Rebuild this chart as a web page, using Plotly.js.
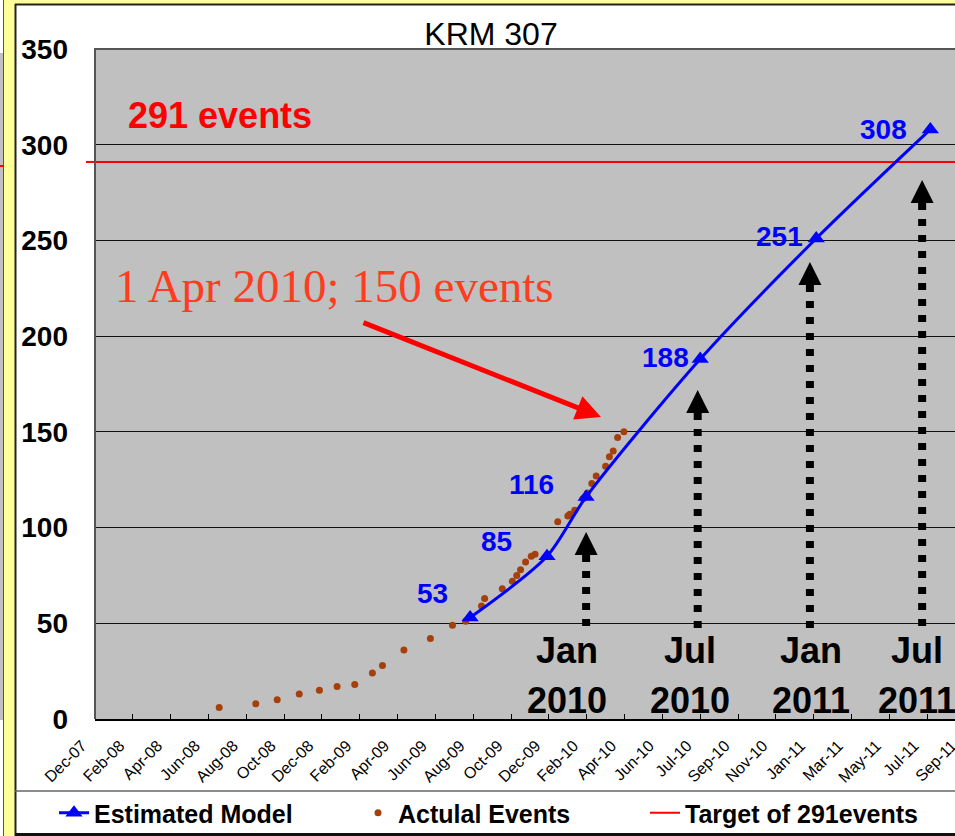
<!DOCTYPE html>
<html>
<head>
<meta charset="utf-8">
<script src="https://cdn.plot.ly/plotly-3.0.1.min.js"></script>
<style>
  html, body { margin: 0; padding: 0; overflow: hidden; background: #ffffff; }
  #chart { width: 1000px; height: 836px; }
</style>
</head>
<body>
<div id="chart"></div>
<script>
// ---- data -------------------------------------------------------------
const MODEL_NAME = 'Estimated Model';
const MODEL_DATES = ['2009-07-31', '2009-11-30', '2010-01-31', '2010-07-31', '2011-01-31', '2011-07-31'];
const MODEL_EVENTS = [53, 85, 116, 188, 251, 308];

const ACTUAL_NAME = 'Actulal Events';
const ACTUAL_DATES = [
  '2008-06-28', '2008-08-25', '2008-09-28', '2008-11-02', '2008-12-04',
  '2009-01-01', '2009-01-29', '2009-02-26', '2009-03-14', '2009-04-17',
  '2009-05-29', '2009-07-03', '2009-07-24', '2009-08-18', '2009-08-23',
  '2009-09-20', '2009-10-06', '2009-10-13', '2009-10-19', '2009-10-27',
  '2009-11-05', '2009-11-11', '2009-12-17', '2010-01-02', '2010-01-05',
  '2010-01-13', '2010-01-26', '2010-02-02', '2010-02-09', '2010-02-16',
  '2010-03-03', '2010-03-09', '2010-03-15', '2010-03-22', '2010-04-01'
];
const ACTUAL_EVENTS = [
  6, 8, 10, 13, 15,
  17, 18, 24, 28, 36,
  42, 49, 51, 59, 63,
  68, 72, 75, 78, 82,
  85, 86, 103, 106, 107,
  109, 115, 118, 123, 127,
  132, 137, 140, 147, 150
];

const TARGET_NAME = 'Target of 291events';
const TARGET_EVENTS = 291;

const CHART_TITLE = 'KRM 307';
const X_START = '2007-12-14';
const X_END = '2011-09-24';
const TICK_STEP_DAYS = 60;
const Y_MAX = 350;

const MILESTONES = [
  { date: '2010-01-31', month: 'Jan', year: '2010' },
  { date: '2010-07-27', month: 'Jul', year: '2010' },
  { date: '2011-01-21', month: 'Jan', year: '2011' },
  { date: '2011-07-18', month: 'Jul', year: '2011' }
];
const TARGET_NOTE = '291 events';
const APRIL_NOTE = '1 Apr 2010; 150 events';

// ---- geometry helpers (pixel -> paper) -------------------------------
const FIG_W = 1000, FIG_H = 836;
const M = { l: 95, r: 35, t: 49, b: 117, autoexpand: false };
const PW = FIG_W - M.l - M.r;
const PH = FIG_H - M.t - M.b;
const px = p => (p - M.l) / PW;
const py = p => (FIG_H - M.b - p) / PH;

const SANS = 'Liberation Sans, Arial, sans-serif';
const SERIF = 'Liberation Serif, Times New Roman, serif';

// ---- traces ----------------------------------------------------------
const traces = [
  {
    type: 'scatter', mode: 'lines+markers', name: MODEL_NAME,
    x: MODEL_DATES, y: MODEL_EVENTS,
    line: { color: '#0000ff', width: 3, shape: 'spline', smoothing: 0.8 },
    marker: { symbol: 'triangle-up', size: 15, color: '#0000ff' },
    legend: 'legend', cliponaxis: false
  },
  {
    type: 'scatter', mode: 'markers', name: ACTUAL_NAME,
    x: ACTUAL_DATES, y: ACTUAL_EVENTS,
    marker: { symbol: 'circle', size: 7, color: '#a5400c' },
    legend: 'legend2'
  },
  {
    type: 'scatter', mode: 'lines', name: TARGET_NAME,
    x: [X_START, X_END], y: [TARGET_EVENTS, TARGET_EVENTS],
    line: { color: '#ff0000', width: 2 },
    legend: 'legend3'
  }
];
// draw order: target line first, then dots, then model on top
const ordered = [traces[2], traces[1], traces[0]];

// ---- value labels on the model points --------------------------------
const LABEL_SHIFT = [[-38, 24], [-51, 15], [-55, 12], [-35, 2], [-37, 2], [-47, 0]];
const annotations = MODEL_EVENTS.map((v, i) => ({
  xref: 'x', yref: 'y', x: MODEL_DATES[i], y: v,
  xanchor: 'center', yanchor: 'middle',
  text: String(v), showarrow: false,
  xshift: LABEL_SHIFT[i][0], yshift: LABEL_SHIFT[i][1],
  font: { family: SANS, size: 28, color: '#0000ff', weight: 'bold' }
}));

// notes
annotations.push({
  xref: 'paper', yref: 'paper', x: px(220), y: py(116),
  xanchor: 'center', yanchor: 'middle',
  text: TARGET_NOTE, showarrow: false,
  font: { family: SANS, size: 36, color: '#ff0000', weight: 'bold' }
});
annotations.push({
  xref: 'paper', yref: 'paper', x: px(334), y: py(286),
  xanchor: 'center', yanchor: 'middle',
  text: APRIL_NOTE, showarrow: false,
  font: { family: SERIF, size: 47, color: '#ff3c1e' }
});
// red pointer arrow
annotations.push({
  xref: 'paper', yref: 'paper', x: px(601), y: py(417),
  axref: 'pixel', ayref: 'pixel', ax: -239, ay: -95,
  text: '', showarrow: true, arrowhead: 2, arrowsize: 1, arrowwidth: 5,
  arrowcolor: '#ff0000', standoff: 0
});

// ---- milestone arrows (dotted shafts + solid heads) ------------------
const ARROW_TIP_PX = [532, 390, 262, 180];
const LABEL_DX = [-19, -8, 1, -5];
const shapes = [];
MILESTONES.forEach((m, i) => {
  const tip = ARROW_TIP_PX[i];
  const base = tip + 23;
  shapes.push({
    type: 'path', xref: 'x', yref: 'paper', xsizemode: 'pixel', xanchor: m.date,
    path: `M-11.5,${py(base)} L11.5,${py(base)} L0,${py(tip)} Z`,
    fillcolor: '#000000', line: { width: 0 }
  });
  shapes.push({
    type: 'line', xref: 'x', yref: 'paper', x0: m.date, x1: m.date,
    y0: py(base), y1: py(628),
    line: { color: '#000000', width: 8, dash: '7px,9px' }
  });
  annotations.push({
    xref: 'x', yref: 'paper', x: m.date, y: py(650), xshift: LABEL_DX[i],
    xanchor: 'center', yanchor: 'middle',
    text: m.month, showarrow: false,
    font: { family: SANS, size: 36, color: '#000000', weight: 'bold' }
  });
  annotations.push({
    xref: 'x', yref: 'paper', x: m.date, y: py(700), xshift: LABEL_DX[i],
    xanchor: 'center', yanchor: 'middle',
    text: m.year, showarrow: false,
    font: { family: SANS, size: 36, color: '#000000', weight: 'bold' }
  });
});

// target line continues a little left of the plot frame
shapes.push({
  type: 'line', xref: 'paper', yref: 'y', x0: px(86), x1: 0, y0: TARGET_EVENTS, y1: TARGET_EVENTS,
  line: { color: '#ff0000', width: 2 }
});
// plot frame: left and top edges
shapes.push({
  type: 'path', xref: 'paper', yref: 'paper',
  path: `M${px(95)},${py(719)} L${px(95)},${py(49)} L${px(1000)},${py(49)}`,
  line: { color: '#555555', width: 2 }
});
// outer slide frame: yellow strips and dark borders
shapes.push({ type: 'rect', xref: 'paper', yref: 'paper', layer: 'below',
  x0: px(4), x1: px(15), y0: py(0), y1: py(836), fillcolor: '#ffff99', line: { width: 0 } });
shapes.push({ type: 'rect', xref: 'paper', yref: 'paper', layer: 'below',
  x0: px(4), x1: px(1000), y0: py(0), y1: py(4), fillcolor: '#ffff99', line: { width: 0 } });
shapes.push({ type: 'line', xref: 'paper', yref: 'paper',
  x0: px(15.5), x1: px(15.5), y0: py(4), y1: py(836), line: { color: '#222222', width: 2 } });
shapes.push({ type: 'line', xref: 'paper', yref: 'paper',
  x0: px(15), x1: px(1000), y0: py(4.5), y1: py(4.5), line: { color: '#222222', width: 2 } });
// neighbouring panel edge at the far left
shapes.push({ type: 'rect', xref: 'paper', yref: 'paper', layer: 'below',
  x0: px(0), x1: px(3.5), y0: py(53), y1: py(720), fillcolor: '#c0c0c0', line: { width: 0 } });
shapes.push({ type: 'line', xref: 'paper', yref: 'paper',
  x0: px(3.5), x1: px(3.5), y0: py(0), y1: py(836), line: { color: '#555555', width: 1 } });
shapes.push({ type: 'line', xref: 'paper', yref: 'paper',
  x0: px(0), x1: px(3.5), y0: py(166), y1: py(166), line: { color: '#ff0000', width: 2 } });
// legend band borders
shapes.push({ type: 'line', xref: 'paper', yref: 'paper',
  x0: px(15), x1: px(1000), y0: py(791), y1: py(791), line: { color: '#666666', width: 1.5 } });
shapes.push({ type: 'line', xref: 'paper', yref: 'paper',
  x0: px(15), x1: px(1000), y0: py(834.5), y1: py(834.5), line: { color: '#111111', width: 3 } });

// ---- legends: one per entry so each sits where it belongs -------------
const legendFont = { family: SANS, size: 25, color: '#000000', weight: 'bold' };
const legendBase = { orientation: 'h', xanchor: 'left', yanchor: 'middle', y: py(813),
  bgcolor: 'rgba(0,0,0,0)', borderwidth: 0, font: legendFont };

const layout = {
  width: FIG_W, height: FIG_H,
  margin: M,
  paper_bgcolor: '#ffffff', plot_bgcolor: '#c0c0c0',
  title: {
    text: CHART_TITLE, x: 491 / FIG_W, xref: 'container', xanchor: 'center',
    y: 1 - 34 / FIG_H, yref: 'container', yanchor: 'middle',
    font: { family: SANS, size: 32, color: '#000000' }
  },
  xaxis: {
    type: 'date', range: [X_START, X_END], automargin: false,
    tick0: X_START, dtick: TICK_STEP_DAYS * 86400000, tickformat: '%b-%y',
    tickangle: -45, tickfont: { family: SANS, size: 16, color: '#000000' },
    ticklabelshift: -13, ticklabelstandoff: 9,
    ticks: 'inside', ticklen: 5, tickcolor: '#000000', tickwidth: 1,
    showgrid: false, zeroline: false,
    showline: true, linecolor: '#000000', linewidth: 2
  },
  yaxis: {
    range: [0, Y_MAX], dtick: 50, tick0: 0, automargin: false,
    tickfont: { family: SANS, size: 28, color: '#000000', weight: 'bold' },
    ticks: '', showgrid: true, gridcolor: '#111111', gridwidth: 1,
    zeroline: false, showline: false, ticklabelstandoff: 26
  },
  showlegend: true,
  legend: Object.assign({}, legendBase, { x: px(54) }),
  legend2: Object.assign({}, legendBase, { x: px(358) }),
  legend3: Object.assign({}, legendBase, { x: px(645) }),
  annotations: annotations,
  shapes: shapes
};

Plotly.newPlot('chart', ordered, layout, { displayModeBar: false, staticPlot: true });
</script>
</body>
</html>
